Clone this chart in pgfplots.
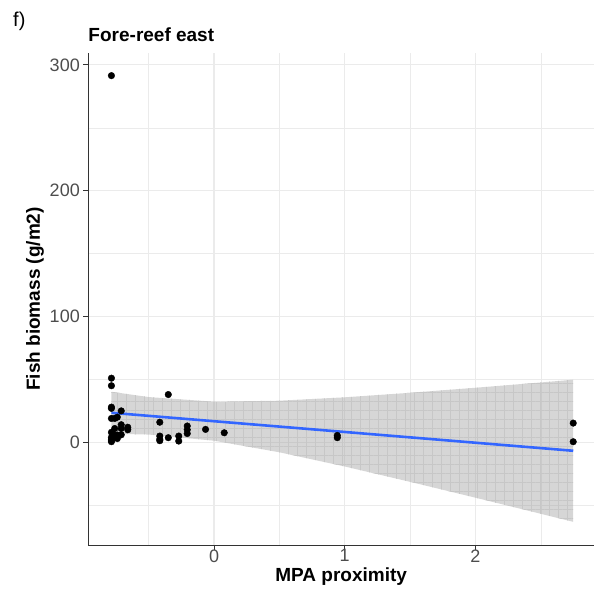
\documentclass[border=0pt]{standalone}
\usepackage{pgfplots}
\pgfplotsset{compat=1.18}
\usepackage{fontspec}
\setmainfont{Liberation Sans}
\usetikzlibrary{patterns.meta}
\definecolor{tickgray}{HTML}{4D4D4D}
\definecolor{axgray}{HTML}{333333}
\definecolor{gridgray}{HTML}{EBEBEB}
\definecolor{smoothblue}{HTML}{3366FF}
\definecolor{ribbon}{HTML}{999999}

\pgfplotstableread{
x y
-0.785 291.5
-0.785 51
-0.785 45
-0.785 28
-0.785 27
-0.785 19
-0.785 8
-0.785 2.5
-0.785 0.5
-0.785 4
-0.785 1.5
-0.76 19
-0.76 11
-0.76 6
-0.76 4
-0.74 20
-0.74 5.8
-0.74 3
-0.71 25
-0.71 14
-0.71 11
-0.71 6
-0.66 12
-0.66 10
-0.415 16
-0.415 5
-0.415 2.5
-0.415 1.3
-0.35 38
-0.35 3.7
-0.27 5
-0.27 1
-0.205 13
-0.205 10
-0.205 7
-0.065 10.3
0.078 7.6
0.943 3.7
0.943 5.5
2.748 15.3
2.748 0.5
}\pts

\pgfplotstableread{
x y
-0.785 40.2
-0.5 36.0
0 32.3
0.5 33.1
1 35.8
1.5 39.4
2 43.4
2.5 47.6
2.748 49.8
2.748 -63.2
2.5 -56.8
2 -44.0
1.5 -31.4
1 -19.2
0.5 -7.9
0 1.3
-0.5 6.2
-0.785 6.8
}\band

\begin{document}
\begin{tikzpicture}[x=1bp,y=1bp]
\begin{axis}[
  at={(0,0)}, anchor=south west,
  scale only axis, width=505.7bp, height=492bp,
  xmin=-0.962, xmax=2.907, ymin=-81.6, ymax=309.5,
  axis x line*=bottom, axis y line*=left,
  axis line style={axgray, line width=0.9bp, -},
  xtick={0,1,2}, ytick={0,100,200,300},
  minor xtick={-0.5,0.5,1.5,2.5}, minor ytick={-50,50,150,250},
  grid=both,
  major grid style={gridgray, line width=1.1bp},
  minor grid style={gridgray, line width=0.55bp},
  tick align=outside, tick style={axgray, line width=0.9bp},
  major tick length=5bp, minor tick length=0pt,
  ticklabel style={font=\fontsize{18bp}{20bp}\selectfont, text=tickgray},
  xticklabel style={yshift=4bp},
  /pgf/number format/assume math mode=true,
  xlabel={MPA proximity}, ylabel={Fish biomass (g/m2)},
  label style={font=\bfseries\fontsize{19bp}{21bp}\selectfont},
  xlabel style={at={(axis description cs:0.5,0)}, anchor=base, yshift=-36.7bp},
  ylabel style={at={(axis description cs:-0.1054,0.5)}, anchor=center},
  clip=true,
]
\addplot[only marks, mark=*, mark size=3.3bp, black] table[x=x,y=y]{\pts};
\addplot[draw=none, fill=ribbon, fill opacity=0.4] table[x=x,y=y]{\band} -- cycle;
\addplot[draw=none, pattern={Hatch[angle=0,distance=9bp,line width=0.6bp]}, pattern color=black!22] table[x=x,y=y]{\band} -- cycle;
\addplot[smoothblue, line width=2.6bp] coordinates {(-0.785,23.5) (2.748,-6.7)};
\end{axis}
\node[anchor=base west, inner sep=0pt, font=\bfseries\fontsize{19bp}{21bp}\selectfont] at (0,503.3) {Fore-reef east};
\node[anchor=base west, inner sep=0pt, font=\fontsize{20bp}{22bp}\selectfont] at (-75.3,518.5) {f)};
\pgfresetboundingbox
\path[use as bounding box] (-88.3,-54) rectangle (505.7,545);
\end{tikzpicture}
\end{document}
